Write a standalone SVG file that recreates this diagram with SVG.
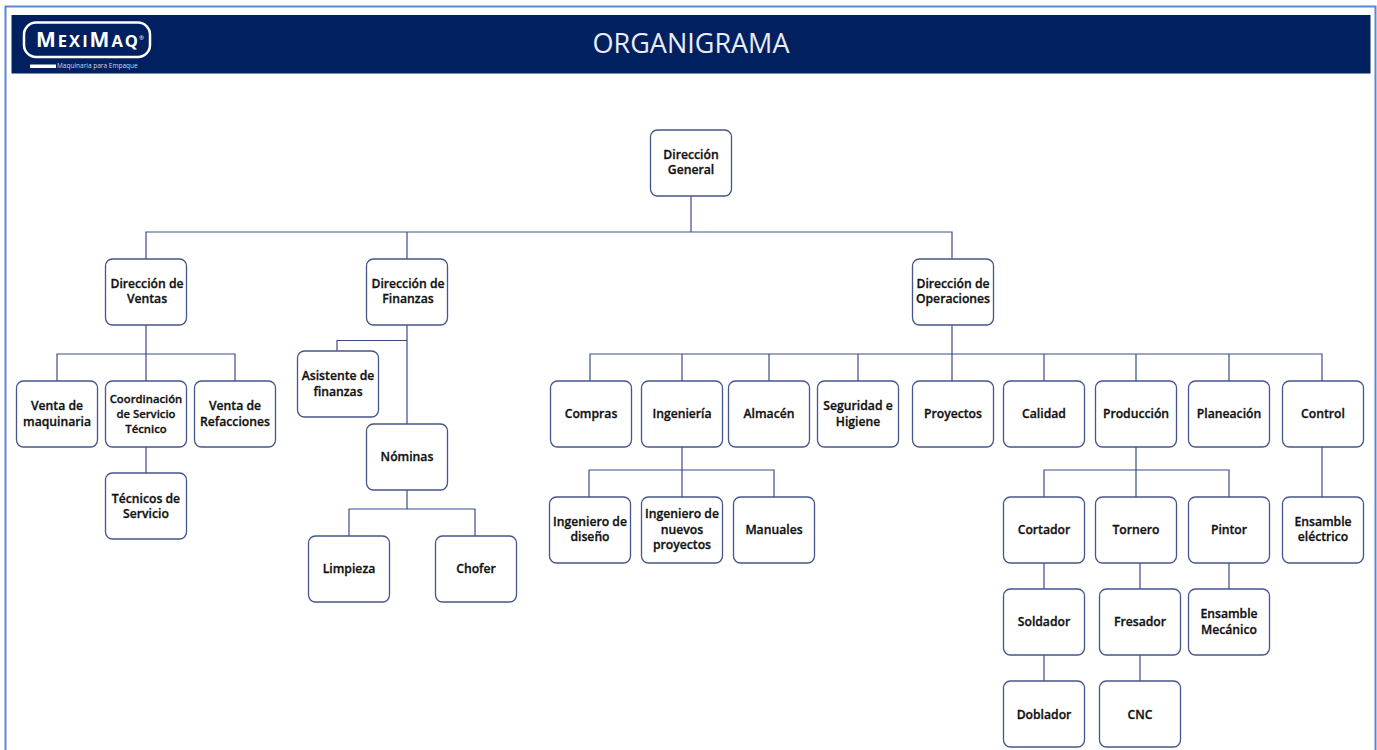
<svg xmlns="http://www.w3.org/2000/svg" width="1377" height="750" viewBox="0 0 1377 750">
<style>
.n{fill:#fff;stroke:#46558a;stroke-width:1.3}
.t{font-family:"Open Sans","Liberation Sans",sans-serif;font-weight:600;font-size:12.2px;fill:#111;text-anchor:middle;stroke:#111;stroke-width:.3}
.c{fill:none;stroke:#3a4d85;stroke-width:1.2}
</style>
<defs><rect id="b" x="0.500" y="0" width="81" height="66" rx="7" class="n"/></defs>
<rect width="1377" height="750" fill="#fff"/>
<path d="M5.500 750V6.500H1375.500V750" fill="none" stroke="#5b86d6" stroke-width="2"/>
<g id="header">
<rect x="11.500" y="15" width="1359" height="58.500" fill="#00205f"/>
<rect x="24" y="22.500" width="126" height="34.500" rx="12" fill="none" stroke="#fff" stroke-width="2.500"/>
<text x="36" y="46.500" font-family="'Open Sans','Liberation Sans',sans-serif" font-weight="700" font-size="21" fill="#fff" textLength="102" lengthAdjust="spacing"><tspan>M</tspan><tspan font-size="16.500">EXI</tspan><tspan>M</tspan><tspan font-size="16.500">AQ</tspan></text>
<text x="139" y="40" font-family="'Open Sans','Liberation Sans',sans-serif" font-size="6" fill="#fff">®</text>
<rect x="30" y="64.500" width="26" height="3.500" fill="#fff"/>
<text x="57" y="68" font-family="'Open Sans','Liberation Sans',sans-serif" font-size="6.500" fill="#cfd6e6">Maquinaria para Empaque</text>
<text x="691" y="53" text-anchor="middle" font-family="'Open Sans','Liberation Sans',sans-serif" font-size="27" fill="#e8ecf4">ORGANIGRAMA</text>
</g>
<g id="connectors" class="c">
<path class="c" d="M691 196V232M146 259V232H952V259M407 232V259"/>
<path class="c" d="M146 325V381M57 381V354H235V381M146 447V473"/>
<path class="c" d="M407 325V424M337 351V340.500H407M407 490V509M349 536V509H475V536"/>
<path class="c" d="M952 325V381M590 381V354H1322V381M682 354V381M769 354V381M858 354V381M1044 354V381M1136 354V381M1229 354V381"/>
<path class="c" d="M682 447V497M589 497V470H774V497"/>
<path class="c" d="M1136 447V497M1044 497V470H1229V497M1044 563V589M1044 655V681M1140 563V589M1140 655V681M1229 563V589M1322 447V497"/>
</g>
<g id="n1"><use href="#b" x="650" y="130"/><text class="t" x="691" y="159">Dirección</text><text class="t" x="691" y="174">General</text></g>
<g id="n2"><use href="#b" x="105" y="259"/><text class="t" x="147" y="288">Dirección de</text><text class="t" x="147" y="303">Ventas</text></g>
<g id="n3"><use href="#b" x="366" y="259"/><text class="t" x="408" y="288">Dirección de</text><text class="t" x="408" y="303">Finanzas</text></g>
<g id="n4"><use href="#b" x="912" y="259"/><text class="t" x="953" y="288">Dirección de</text><text class="t" x="953" y="303">Operaciones</text></g>
<g id="n5"><use href="#b" x="16" y="381"/><text class="t" x="57" y="410">Venta de</text><text class="t" x="57" y="426">maquinaria</text></g>
<g id="n6"><use href="#b" x="105" y="381"/><text class="t" x="146" y="403" style="font-size:11.300px">Coordinación</text><text class="t" x="146" y="418" style="font-size:11.300px">de Servicio</text><text class="t" x="146" y="433" style="font-size:11.300px">Técnico</text></g>
<g id="n7"><use href="#b" x="194" y="381"/><text class="t" x="235" y="410">Venta de</text><text class="t" x="235" y="426">Refacciones</text></g>
<g id="n8"><use href="#b" x="105" y="473"/><text class="t" x="146" y="503">Técnicos de</text><text class="t" x="146" y="518">Servicio</text></g>
<g id="n9"><use href="#b" x="297" y="351"/><text class="t" x="338" y="380">Asistente de</text><text class="t" x="338" y="396">finanzas</text></g>
<g id="n10"><use href="#b" x="366" y="424"/><text class="t" x="407" y="461">Nóminas</text></g>
<g id="n11"><use href="#b" x="308" y="536"/><text class="t" x="349" y="573">Limpieza</text></g>
<g id="n12"><use href="#b" x="435" y="536"/><text class="t" x="476" y="573">Chofer</text></g>
<g id="n13"><use href="#b" x="550" y="381"/><text class="t" x="591" y="418">Compras</text></g>
<g id="n14"><use href="#b" x="641" y="381"/><text class="t" x="682" y="418">Ingeniería</text></g>
<g id="n15"><use href="#b" x="728" y="381"/><text class="t" x="769" y="418">Almacén</text></g>
<g id="n16"><use href="#b" x="817" y="381"/><text class="t" x="858" y="410">Seguridad e</text><text class="t" x="858" y="426">Higiene</text></g>
<g id="n17"><use href="#b" x="912" y="381"/><text class="t" x="953" y="418">Proyectos</text></g>
<g id="n18"><use href="#b" x="1003" y="381"/><text class="t" x="1044" y="418">Calidad</text></g>
<g id="n19"><use href="#b" x="1095" y="381"/><text class="t" x="1136" y="418">Producción</text></g>
<g id="n20"><use href="#b" x="1188" y="381"/><text class="t" x="1229" y="418">Planeación</text></g>
<g id="n21"><use href="#b" x="1282" y="381"/><text class="t" x="1323" y="418">Control</text></g>
<g id="n22"><use href="#b" x="549" y="497"/><text class="t" x="590" y="526">Ingeniero de</text><text class="t" x="590" y="541">diseño</text></g>
<g id="n23"><use href="#b" x="641" y="497"/><text class="t" x="682" y="518">Ingeniero de</text><text class="t" x="682" y="534">nuevos</text><text class="t" x="682" y="549">proyectos</text></g>
<g id="n24"><use href="#b" x="733" y="497"/><text class="t" x="774" y="534">Manuales</text></g>
<g id="n25"><use href="#b" x="1003" y="497"/><text class="t" x="1044" y="534">Cortador</text></g>
<g id="n26"><use href="#b" x="1095" y="497"/><text class="t" x="1136" y="534">Tornero</text></g>
<g id="n27"><use href="#b" x="1188" y="497"/><text class="t" x="1229" y="534">Pintor</text></g>
<g id="n28"><use href="#b" x="1282" y="497"/><text class="t" x="1323" y="526">Ensamble</text><text class="t" x="1323" y="541">eléctrico</text></g>
<g id="n29"><use href="#b" x="1003" y="589"/><text class="t" x="1044" y="626">Soldador</text></g>
<g id="n30"><use href="#b" x="1099" y="589"/><text class="t" x="1140" y="626">Fresador</text></g>
<g id="n31"><use href="#b" x="1188" y="589"/><text class="t" x="1229" y="618">Ensamble</text><text class="t" x="1229" y="634">Mecánico</text></g>
<g id="n32"><use href="#b" x="1003" y="681"/><text class="t" x="1044" y="719">Doblador</text></g>
<g id="n33"><use href="#b" x="1099" y="681"/><text class="t" x="1140" y="719">CNC</text></g>
</svg>
